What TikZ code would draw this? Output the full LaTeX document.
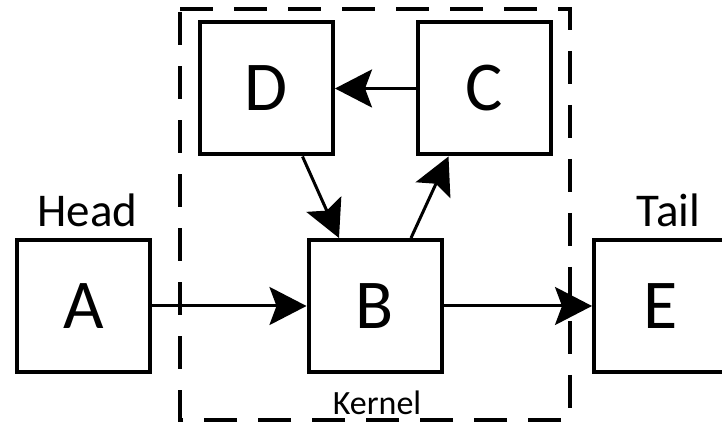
\documentclass[tikz,border=0pt]{standalone}
\usepackage{fontspec}
\setmainfont{Carlito}
\usepackage{tikz}
\usetikzlibrary{calc,arrows.meta}
\tikzset{
  blockbox/.style={draw, line width=4pt, minimum width=133pt, minimum height=132pt,
    inner sep=0pt, font=\fontsize{70}{84}\selectfont},
  flow/.style={-{Stealth[length=37pt,width=38pt,inset=7pt]}, line width=3pt},
  kernelframe/.style={line width=3.5pt, dash pattern=on 33pt off 21pt}
}

\begin{document}
\begin{tikzpicture}[x=1pt,y=1pt]

  \useasboundingbox (0,0) rectangle (722,427);

  % kernel frame
  \draw[kernelframe] (180,418) -- (570,418) -- (570,7) -- (180,7) -- cycle;

  % blocks
  \node[blockbox] (A) at (83.5,121) {A};
  \node[blockbox] (B) at (375,121) {B};
  \node[blockbox] (E) at (660.5,121) {E};
  \node[blockbox] (D) at (266.5,338.5) {D};
  \node[blockbox] (C) at (484.5,338.5) {C};

  % labels
  \node[anchor=base, font=\fontsize{47}{56}\selectfont] (head) at ([xshift=4pt,yshift=11pt]A.north) {Head};
  \node[anchor=base, font=\fontsize{47}{56}\selectfont] (tail) at ([xshift=8pt,yshift=11pt]E.north) {Tail};
  \node[anchor=base, font=\fontsize{34}{40}\selectfont] (kernel) at ([xshift=2pt,yshift=-41pt]B.south) {Kernel};

  % connections
  \draw[flow] (A.east) -- (B.west);
  \draw[flow] (B.east) -- (E.west);
  \draw[flow] (C.west) -- (D.east);
  \draw[flow] ([xshift=36pt]D.south) -- ([xshift=-36pt]B.north);
  \draw[flow] ([xshift=36pt]B.north) -- ([xshift=-36pt]C.south);

\end{tikzpicture}
\end{document}
